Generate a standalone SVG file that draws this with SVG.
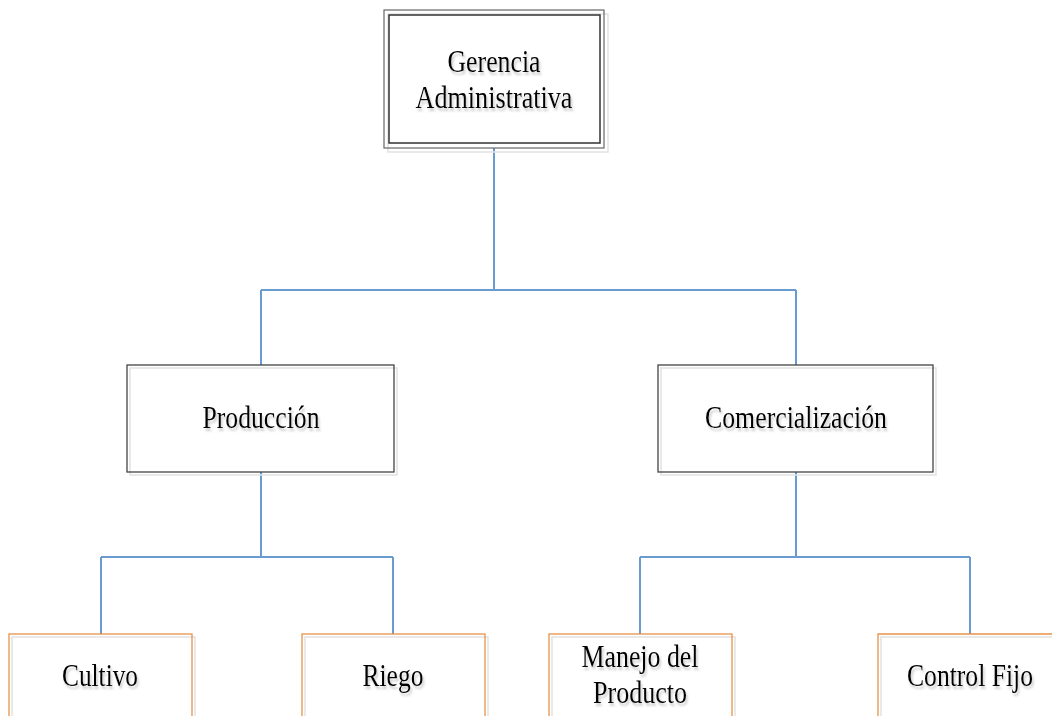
<svg xmlns="http://www.w3.org/2000/svg" width="1052" height="716" viewBox="0 0 1052 716">
<defs>
<filter id="ts" x="-10%" y="-30%" width="120%" height="180%">
<feDropShadow dx="1.5" dy="3" stdDeviation="1" flood-color="#888" flood-opacity="0.45"/>
</filter>
</defs>
<style>
.lbl{font-family:"Liberation Serif","Times New Roman",serif;font-size:31px;fill:#000;text-anchor:middle;filter:url(#ts)}
.conn{fill:none;stroke:#6A9BD0;stroke-width:2}
.shadow{fill:none;stroke:#e2e2e2;stroke-width:1.5}
.mid{fill:none;stroke:#444;stroke-width:1.3}
.leaf{fill:none;stroke:#E8924A;stroke-width:1.3}
</style>
<rect width="1052" height="716" fill="#fff"/>
<g id="connectors">
<path class="conn" d="M494 148V290M261 290H796M261 290V365M796 290V365"/>
<path class="conn" d="M261 472V557M101 557H393M101 557V634M393 557V634"/>
<path class="conn" d="M796 472V557M640 557H970M640 557V634M970 557V634"/>
</g>
<g id="gerencia">
<rect class="shadow" x="388" y="14" width="220" height="138"/>
<rect x="384" y="10" width="220" height="138" fill="none" stroke="#666" stroke-width="1.2"/>
<rect x="389" y="15" width="211" height="128" fill="none" stroke="#333" stroke-width="1.5"/>
<text class="lbl" x="494" y="72" textLength="93" lengthAdjust="spacingAndGlyphs">Gerencia</text>
<text class="lbl" x="494" y="108" textLength="157" lengthAdjust="spacingAndGlyphs">Administrativa</text>
</g>
<g id="produccion">
<rect class="shadow" x="130" y="368" width="267" height="107"/>
<rect class="mid" x="127" y="365" width="267" height="107" fill="#fff"/>
<text class="lbl" x="261" y="428" textLength="117" lengthAdjust="spacingAndGlyphs">Producción</text>
</g>
<g id="comercializacion">
<rect class="shadow" x="661" y="368" width="275" height="107"/>
<rect class="mid" x="658" y="365" width="275" height="107" fill="#fff"/>
<text class="lbl" x="796" y="428" textLength="182" lengthAdjust="spacingAndGlyphs">Comercialización</text>
</g>
<g id="cultivo">
<rect class="shadow" x="12" y="637" width="183" height="100"/>
<rect class="leaf" x="9" y="634" width="183" height="100"/>
<text class="lbl" x="100" y="686" textLength="76" lengthAdjust="spacingAndGlyphs">Cultivo</text>
</g>
<g id="riego">
<rect class="shadow" x="305" y="637" width="183" height="100"/>
<rect class="leaf" x="302" y="634" width="183" height="100"/>
<text class="lbl" x="393" y="686" textLength="61" lengthAdjust="spacingAndGlyphs">Riego</text>
</g>
<g id="manejo">
<rect class="shadow" x="552" y="637" width="183" height="100"/>
<rect class="leaf" x="549" y="634" width="183" height="100"/>
<text class="lbl" x="640" y="667" textLength="117" lengthAdjust="spacingAndGlyphs">Manejo del</text>
<text class="lbl" x="640" y="703" textLength="94" lengthAdjust="spacingAndGlyphs">Producto</text>
</g>
<g id="control">
<path class="shadow" d="M1052 637H881V716"/>
<path class="leaf" d="M1052 634H878V716"/>
<text class="lbl" x="970" y="686" textLength="126" lengthAdjust="spacingAndGlyphs">Control Fijo</text>
</g>
</svg>
